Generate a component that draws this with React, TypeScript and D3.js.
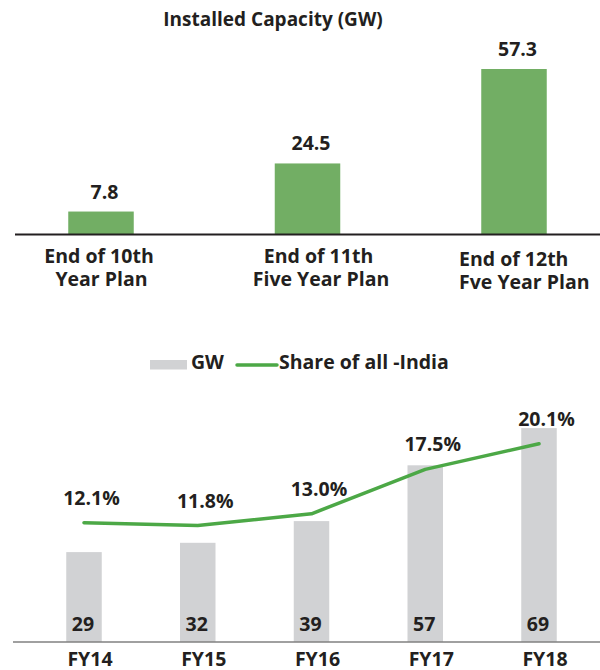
import React from "react";
import * as d3 from "d3";

const planCategories = ["End of 10th|Year Plan", "End of 11th|Five Year Plan", "End of 12th|Fve Year Plan"];
const planValues = [7.8, 24.5, 57.3];
const planLabels = ["7.8", "24.5", "57.3"];

const fyCategories = ["FY14", "FY15", "FY16", "FY17", "FY18"];
const gwValues = [29, 32, 39, 57, 69];
const shareValues = [12.1, 11.8, 13.0, 17.5, 20.1];
const shareLabels = ["12.1%", "11.8%", "13.0%", "17.5%", "20.1%"];

const FONT = "'Open Sans', 'Noto Sans', sans-serif";
const TXT = "#231F20";
const FS = 19.5;

export default function App() {
  // Top chart
  const x1 = d3.scalePoint<string>().domain(planCategories).range([101, 514]);
  const y1 = d3.scaleLinear().domain([0, 57.3]).range([234, 69]);
  const bw1 = 65.5;
  const labelDx = [-2, 11, 0];

  // Bottom chart
  const x2 = d3.scalePoint<string>().domain(fyCategories).range([84, 539]);
  const y2 = d3.scaleLinear().domain([0, 70]).range([642, 425]);
  const y2s = d3.scaleLinear().domain([0, 22]).range([642, 425]);
  const bw2 = 35.5;

  const line = d3
    .line<number>()
    .x((_, i) => x2(fyCategories[i]) as number)
    .y((d) => y2s(d));

  return (
    <svg
      width={600}
      height={670}
      style={{ position: "absolute", left: 0, top: 0, background: "#fff" }}
      fontFamily={FONT}
      fontWeight="bold"
    >
      {/* Top chart */}
      <text x={273} y={26} textAnchor="middle" fontSize={19} fill={TXT}>
        Installed Capacity (GW)
      </text>
      {planValues.map((v, i) => {
        const cx = x1(planCategories[i]) as number;
        return (
          <g key={i}>
            <rect x={cx - bw1 / 2} y={y1(v)} width={bw1} height={y1(0) - y1(v)} fill="#72AE64" />
            <text x={cx + 3.5} y={y1(v) - 13} textAnchor="middle" fontSize={FS} fill={TXT}>
              {planLabels[i]}
            </text>
          </g>
        );
      })}
      <line x1={15} x2={600} y1={234.5} y2={234.5} stroke={TXT} strokeWidth={2} />
      {planCategories.map((c, i) => {
        const cx = x1(c) as number;
        const lines = c.split("|");
        const last = i === planCategories.length - 1;
        const lx = last ? cx - 55 : cx + labelDx[i];
        return (
          <text key={c} textAnchor={last ? "start" : "middle"} fontSize={FS} fill={TXT}>
            {lines.map((l, j) => (
              <tspan
                key={j}
                x={lx + (!last && j === 1 ? 2.5 : 0)}
                y={(j === 0 ? 263 : 286) + (last ? 3 : 0)}
              >
                {l}
              </tspan>
            ))}
          </text>
        );
      })}

      {/* Legend */}
      <rect x={150} y={360} width={37} height={9.5} fill="#D1D2D4" />
      <text x={191} y={368.5} fontSize={FS} fill={TXT}>GW</text>
      <line x1={237} x2={277} y1={365} y2={365} stroke="#4CA846" strokeWidth={3.5} strokeLinecap="round" />
      <text x={279} y={368.5} fontSize={FS} fill={TXT}>Share of all -India</text>

      {/* Bottom chart */}
      {gwValues.map((v, i) => {
        const cx = x2(fyCategories[i]) as number;
        return (
          <g key={i}>
            <rect x={cx - bw2 / 2} y={y2(v)} width={bw2} height={y2(0) - y2(v)} fill="#D1D2D4" />
            <text x={cx - 1} y={631} textAnchor="middle" fontSize={FS} fill={TXT}>
              {v}
            </text>
          </g>
        );
      })}
      <line x1={13} x2={600} y1={642} y2={642} stroke="#808080" strokeWidth={1.5} />
      <path
        d={line(shareValues) as string}
        fill="none"
        stroke="#4CA846"
        strokeWidth={3.5}
        strokeLinejoin="round"
        strokeLinecap="round"
      />
      {shareValues.map((v, i) => {
        const cx = x2(fyCategories[i]) as number;
        return (
          <text key={i} x={cx + 7.5} y={y2s(v) - 18} textAnchor="middle" fontSize={FS} fill={TXT}>
            {shareLabels[i]}
          </text>
        );
      })}
      {fyCategories.map((c) => (
        <text key={c} x={(x2(c) as number) + 6} y={666} textAnchor="middle" fontSize={FS} fill={TXT}>
          {c}
        </text>
      ))}
    </svg>
  );
}
